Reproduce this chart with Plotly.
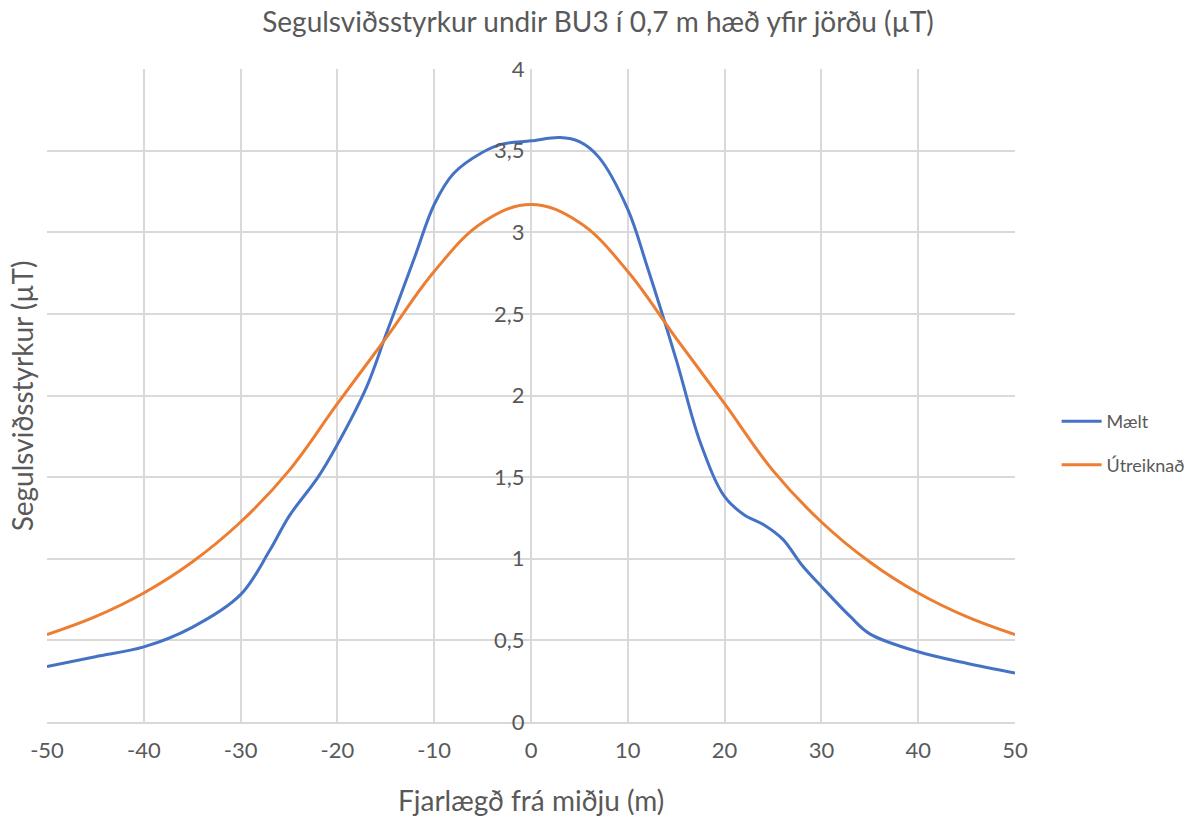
import plotly.graph_objects as go

TITLE = "Segulsviðsstyrkur undir BU3 í 0,7 m hæð yfir jörðu (µT)"
X_TITLE = "Fjarlægð frá miðju (m)"
Y_TITLE = "Segulsviðsstyrkur (µT)"

# measured field ("Mælt")
measured_x = [-50, -45, -40, -35, -30, -27, -25, -22, -20, -17, -15, -12, -10, -8,
              -5, -3, 0, 3, 5, 7, 10, 12, 15, 17.5, 20, 22, 24, 26, 28, 30, 33,
              35, 40, 45, 50]
measured_y = [0.34, 0.40, 0.46, 0.58, 0.78, 1.05, 1.26, 1.50, 1.70, 2.05, 2.37, 2.85,
              3.17, 3.36, 3.49, 3.54, 3.56, 3.58, 3.555, 3.46, 3.14, 2.79, 2.22, 1.71,
              1.38, 1.27, 1.21, 1.12, 0.96, 0.83, 0.645, 0.54, 0.43, 0.36, 0.30]

# calculated field ("Útreiknað")
calc_x = [-50, -45, -40, -35, -30, -25, -20, -15, -10, -5, 0,
          5, 10, 15, 20, 25, 30, 35, 40, 45, 50]
calc_y = [0.535, 0.645, 0.79, 0.98, 1.225, 1.54, 1.95, 2.35, 2.76, 3.06, 3.17,
          3.06, 2.76, 2.35, 1.95, 1.54, 1.225, 0.98, 0.79, 0.645, 0.535]

x_ticks = [-50, -40, -30, -20, -10, 0, 10, 20, 30, 40, 50]
x_tick_text = ["-50", "-40", "-30", "-20", "-10", "0", "10", "20", "30", "40", "50"]

FONT = "Lato, Carlito, Calibri, sans-serif"
TEXT = "#595959"
GRID = "#d9d9d9"

fig = go.Figure()
fig.add_trace(go.Scatter(
    x=measured_x, y=measured_y, name="Mælt", mode="lines",
    line=dict(color="#4472C4", width=3, shape="spline", smoothing=1.0),
    legendgroup="a",
))
fig.add_trace(go.Scatter(
    x=calc_x, y=calc_y, name="Útreiknað", mode="lines",
    line=dict(color="#ED7D31", width=3, shape="spline", smoothing=1.1),
    legendgroup="b",
))

fig.update_layout(
    width=1196,
    height=816,
    separators=", ",
    paper_bgcolor="white",
    plot_bgcolor="white",
    font=dict(family=FONT, size=22, color=TEXT),
    margin=dict(l=47, r=181, t=69, b=94, autoexpand=False),
    title=dict(text=TITLE, x=0.5, xref="container", xanchor="center",
               y=1 - 22 / 816, yref="container", yanchor="middle",
               font=dict(size=28, color=TEXT)),
    legend=dict(x=1.043, y=0.427, xanchor="left", yanchor="middle",
                font=dict(size=18, color=TEXT), tracegroupgap=17,
                itemwidth=40, bgcolor="rgba(0,0,0,0)"),
    annotations=[
        dict(text=X_TITLE, x=0.5, y=-0.119, xref="paper", yref="paper",
             xanchor="center", yanchor="middle", showarrow=False,
             font=dict(size=28, color=TEXT)),
        dict(text=Y_TITLE, x=-0.026, y=0.5, xref="paper", yref="paper",
             xanchor="center", yanchor="middle", showarrow=False, textangle=-90,
             font=dict(size=28, color=TEXT)),
    ],
)

fig.update_xaxes(
    range=[-50, 50], tickmode="array", tickvals=x_ticks, ticktext=x_tick_text,
    showgrid=True, gridcolor=GRID, gridwidth=2,
    zeroline=False, showline=True, linecolor=GRID, linewidth=2,
    ticks="outside", ticklen=8, tickcolor="rgba(0,0,0,0)",
    tickfont=dict(size=22, color=TEXT), automargin=False,
)
fig.update_yaxes(
    range=[0, 4], dtick=0.5, tick0=0,
    anchor="free", position=0.5,
    showgrid=True, gridcolor=GRID, gridwidth=2,
    zeroline=False, showline=False,
    ticks="outside", ticklen=2, tickcolor="rgba(0,0,0,0)",
    tickfont=dict(size=22, color=TEXT), automargin=False,
)

# drop the default 8px body margin so the figure fills the window exactly
fig.write_html("out.html", config={"displayModeBar": False},
               post_script="document.body.style.margin='0';")
